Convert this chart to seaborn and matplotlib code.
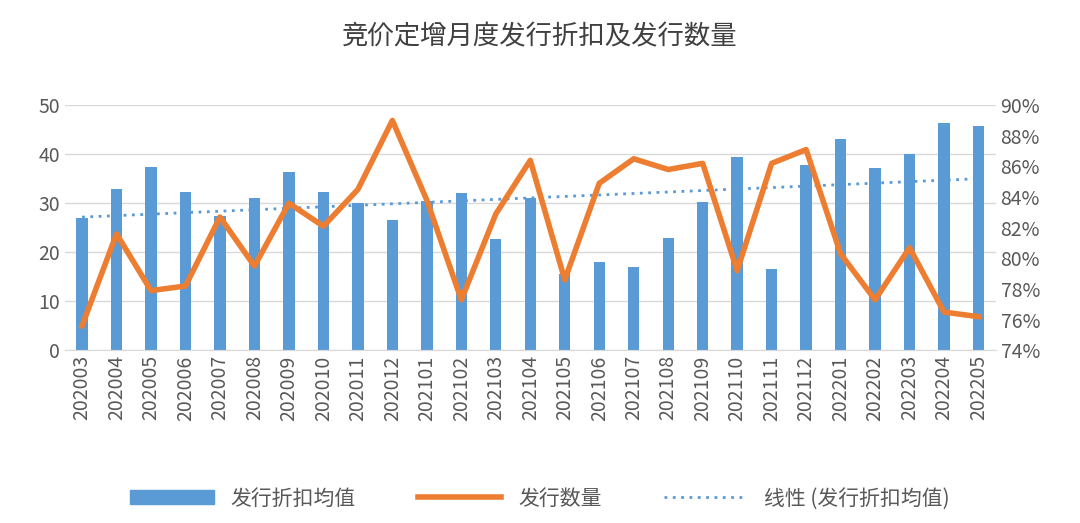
import matplotlib
matplotlib.use("Agg")
import matplotlib.pyplot as plt
import seaborn as sns
import numpy as np
import pandas as pd
from matplotlib.ticker import FuncFormatter
from matplotlib.lines import Line2D
from matplotlib.patches import Patch

plt.rcParams["font.family"] = ["Noto Sans CJK SC", "Noto Sans CJK JP", "Noto Sans CJK TC", "DejaVu Sans"]

months = ["202003","202004","202005","202006","202007","202008","202009","202010","202011","202012",
          "202101","202102","202103","202104","202105","202106","202107","202108","202109","202110",
          "202111","202112","202201","202202","202203","202204","202205"]
bar_vals = [27, 33, 37.3, 32.3, 27.5, 31, 36.3, 32.3, 30, 26.5,
            30.5, 32, 22.7, 31, 15.5, 18, 17, 23, 30.3, 39.5,
            16.5, 37.8, 43, 37.2, 40, 46.3, 45.8]
line_vals = [75.6, 81.6, 77.9, 78.2, 82.7, 79.5, 83.6, 82.1, 84.5, 89.0,
             83.8, 77.3, 82.9, 86.4, 78.6, 84.9, 86.5, 85.8, 86.2, 79.2,
             86.2, 87.1, 80.3, 77.3, 80.7, 76.5, 76.2]

df = pd.DataFrame({"month": months, "bar": bar_vals, "line": line_vals})
x = np.arange(len(months))

fig = plt.figure(figsize=(10.8, 5.23), dpi=100)
ax = fig.add_axes([0.06, 0.33, 0.862, 0.469])
blue = "#5B9BD5"; orange = "#ED7D31"
sns.barplot(data=df, x="month", y="bar", color=blue, width=0.33, ax=ax, saturation=1)
ax.set_ylim(0, 50)
ax.set_yticks(range(0, 51, 10))
ax.grid(axis="y", color="#D9D9D9", lw=1)
ax.set_axisbelow(True)
for s in ["top", "right", "left"]:
    ax.spines[s].set_visible(False)
ax.spines["bottom"].set_color("#D9D9D9")
ax.set_xlabel(""); ax.set_ylabel("")
ax.tick_params(axis="both", length=0, labelsize=14, colors="#595959")
ax.tick_params(axis="x", rotation=90)

coef = np.polyfit(x, bar_vals, 1)
ax.plot(x, np.polyval(coef, x), ls=(0, (1, 2)), color=blue, lw=2)

ax2 = ax.twinx()
sns.lineplot(x=x, y=line_vals, color=orange, lw=4, ax=ax2)
ax2.set_ylim(74, 90)
ax2.set_yticks(range(74, 91, 2))
ax2.yaxis.set_major_formatter(FuncFormatter(lambda v, p: f"{int(v)}%"))
ax2.tick_params(length=0, labelsize=14, colors="#595959")
for s in ax2.spines.values():
    s.set_visible(False)
ax.set_xlim(-0.5, len(months) - 0.5)

fig.suptitle("竞价定增月度发行折扣及发行数量", y=0.955, fontsize=19, color="#404040")
handles = [Patch(color=blue), Line2D([], [], color=orange, lw=4),
           Line2D([], [], color=blue, lw=2, ls=(0, (1, 2)))]
fig.legend(handles, ["发行折扣均值", "发行数量", "线性 (发行折扣均值)"], loc="lower center",
           ncol=3, frameon=False, fontsize=15, bbox_to_anchor=(0.5, -0.01), handlelength=4,
           columnspacing=3, labelcolor="#595959")
fig.savefig("out.png", dpi=100)
